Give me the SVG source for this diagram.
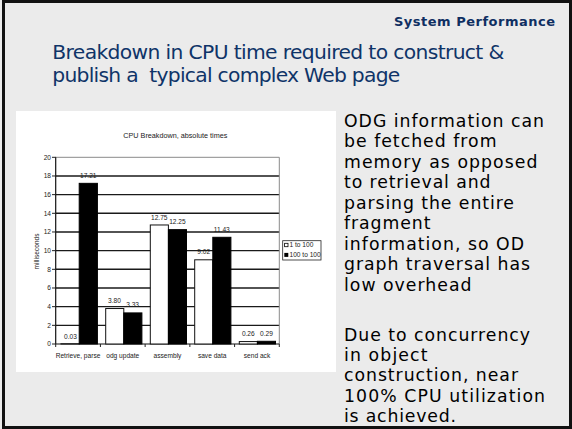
<svg xmlns="http://www.w3.org/2000/svg" width="572" height="429" viewBox="0 0 572 429">
<style>
.hdr{font-family:"DejaVu Sans",Verdana,sans-serif;font-weight:bold;font-size:13px;fill:#0f2f62}
.ttl{font-family:"DejaVu Sans",Verdana,sans-serif;font-size:20.3px;fill:#0f3468}
.body{font-family:"DejaVu Sans",Verdana,sans-serif;font-size:17.3px;fill:#000}
.ch{font-family:"Liberation Sans",Arial,sans-serif;font-size:6.6px;fill:#222}
.grid{stroke:#1a1a1a;stroke-width:1.4}
.wbar{fill:#fff;stroke:#111;stroke-width:1}
.bbar{fill:#000;stroke:#000;stroke-width:1}
.tick{stroke:#222;stroke-width:1}
</style>
<rect x="0" y="0" width="572" height="429" fill="#ebebeb"/>
<rect x="3.5" y="1.5" width="567" height="426" fill="none" stroke="#111" stroke-width="3"/>
<g id="header">
<text class="hdr" x="555" y="26" text-anchor="end" textLength="161" lengthAdjust="spacing">System Performance</text>
</g>
<g id="title">
<text class="ttl" x="52.3" y="59.3" textLength="452" lengthAdjust="spacing">Breakdown in CPU time required to construct &amp;</text>
<text class="ttl" x="52.3" y="81.7" textLength="348" lengthAdjust="spacing" xml:space="preserve">publish a  typical complex Web page</text>
</g>
<g id="chart">
<rect x="16" y="111" width="320" height="261" fill="#fff"/>
<text class="ch" x="175.3" y="138.3" text-anchor="middle" textLength="104" lengthAdjust="spacingAndGlyphs" font-size="7">CPU Breakdown, absolute times</text>
<g id="gridlines">
<line class="grid" x1="55.7" y1="325.33" x2="279.3" y2="325.33"/>
<line class="grid" x1="55.7" y1="306.66" x2="279.3" y2="306.66"/>
<line class="grid" x1="55.7" y1="287.99" x2="279.3" y2="287.99"/>
<line class="grid" x1="55.7" y1="269.32" x2="279.3" y2="269.32"/>
<line class="grid" x1="55.7" y1="250.65" x2="279.3" y2="250.65"/>
<line class="grid" x1="55.7" y1="231.98" x2="279.3" y2="231.98"/>
<line class="grid" x1="55.7" y1="213.31" x2="279.3" y2="213.31"/>
<line class="grid" x1="55.7" y1="194.64" x2="279.3" y2="194.64"/>
<line class="grid" x1="55.7" y1="175.97" x2="279.3" y2="175.97"/>
<polyline points="55.7,157.3 279.3,157.3 279.3,344" fill="none" stroke="#8a8a8a" stroke-width="1"/>
</g>
<g id="axes">
<line x1="55.7" y1="157.3" x2="55.7" y2="344" stroke="#111" stroke-width="1.2"/>
<line x1="55.7" y1="344" x2="279.3" y2="344" stroke="#111" stroke-width="1.2"/>
<path class="tick" d="M52,344H56M52,325.33H56M52,306.66H56M52,287.99H56M52,269.32H56M52,250.65H56M52,231.98H56M52,213.31H56M52,194.64H56M52,175.97H56M52,157.3H56"/>
<path class="tick" d="M55.7,344V347M100.42,344V347M145.14,344V347M189.86,344V347M234.58,344V347M279.3,344V347"/>
<g class="ch" text-anchor="end">
<text x="51" y="346.3">0</text>
<text x="51" y="327.6">2</text>
<text x="51" y="309">4</text>
<text x="51" y="290.3">6</text>
<text x="51" y="271.6">8</text>
<text x="51" y="253">10</text>
<text x="51" y="234.3">12</text>
<text x="51" y="215.6">14</text>
<text x="51" y="197">16</text>
<text x="51" y="178.3">18</text>
<text x="51" y="159.6">20</text>
</g>
<text class="ch" transform="translate(38.5,251.5) rotate(-90)" text-anchor="middle" font-size="6">milliseconds</text>
<g class="ch" text-anchor="middle">
<text x="78" y="357.5">Retrieve, parse</text>
<text x="122.8" y="357.5">odg update</text>
<text x="167.5" y="357.5">assembly</text>
<text x="212.2" y="357.5">save data</text>
<text x="257" y="357.5">send ack</text>
</g>
</g>
<g id="bars">
<rect class="wbar" x="61" y="343.72" width="18.2" height="0.28"/>
<rect class="bbar" x="79.2" y="183.34" width="18.2" height="160.66"/>
<rect class="wbar" x="105.7" y="308.53" width="18.1" height="35.47"/>
<rect class="bbar" x="123.8" y="312.91" width="18.1" height="31.09"/>
<rect class="wbar" x="150.3" y="224.98" width="18.1" height="119.02"/>
<rect class="bbar" x="168.4" y="229.65" width="18.1" height="114.35"/>
<rect class="wbar" x="194.7" y="259.8" width="18.1" height="84.2"/>
<rect class="bbar" x="212.8" y="237.3" width="18.1" height="106.7"/>
<rect class="wbar" x="239.3" y="341.57" width="18.1" height="2.43"/>
<rect class="bbar" x="257.4" y="341.29" width="18.1" height="2.71"/>
</g>
<g id="values" class="ch" text-anchor="middle">
<text x="70.5" y="339">0.03</text>
<text x="88.3" y="177.9">17.21</text>
<text x="114.5" y="303.2">3.80</text>
<text x="132.6" y="307.4">3.33</text>
<text x="159.3" y="219.6">12.75</text>
<text x="177.4" y="224.2">12.25</text>
<text x="203.7" y="254.4">9.02</text>
<text x="221.8" y="231.9">11.43</text>
<text x="248.3" y="336">0.26</text>
<text x="266.4" y="336">0.29</text>
</g>
<g id="legend">
<rect x="282.7" y="240.7" width="38.3" height="19.3" fill="#fff" stroke="#222" stroke-width="0.8"/>
<rect x="284.6" y="243.3" width="3.4" height="3.4" fill="#fff" stroke="#000" stroke-width="0.8"/>
<text class="ch" x="289.5" y="247.2" font-size="6">1 to 100</text>
<rect x="284.3" y="252.9" width="4" height="4" fill="#000"/>
<text class="ch" x="289.5" y="256.8" font-size="6">100 to 100</text>
</g>
</g>
<g id="body">
<text class="body" x="344" y="126.7" textLength="200" lengthAdjust="spacing">ODG information can</text>
<text class="body" x="344" y="147.2" textLength="152.5" lengthAdjust="spacing">be fetched from</text>
<text class="body" x="344" y="167.7" textLength="193.5" lengthAdjust="spacing">memory as opposed</text>
<text class="body" x="344" y="188.2" textLength="146.5" lengthAdjust="spacing">to retrieval and</text>
<text class="body" x="344" y="208.7" textLength="170" lengthAdjust="spacing">parsing the entire</text>
<text class="body" x="344" y="229.2" textLength="86.5" lengthAdjust="spacing">fragment</text>
<text class="body" x="344" y="249.7" textLength="180" lengthAdjust="spacing">information, so OD</text>
<text class="body" x="344" y="270.2" textLength="186" lengthAdjust="spacing">graph traversal has</text>
<text class="body" x="344" y="290.7" textLength="127.5" lengthAdjust="spacing">low overhead</text>
<text class="body" x="344" y="340.7" textLength="186" lengthAdjust="spacing">Due to concurrency</text>
<text class="body" x="344" y="361" textLength="83.5" lengthAdjust="spacing">in object</text>
<text class="body" x="344" y="381.4" textLength="174" lengthAdjust="spacing">construction, near</text>
<text class="body" x="344" y="401.7" textLength="201" lengthAdjust="spacing">100% CPU utilization</text>
<text class="body" x="344" y="422" textLength="112" lengthAdjust="spacing">is achieved.</text>
</g>
</svg>
